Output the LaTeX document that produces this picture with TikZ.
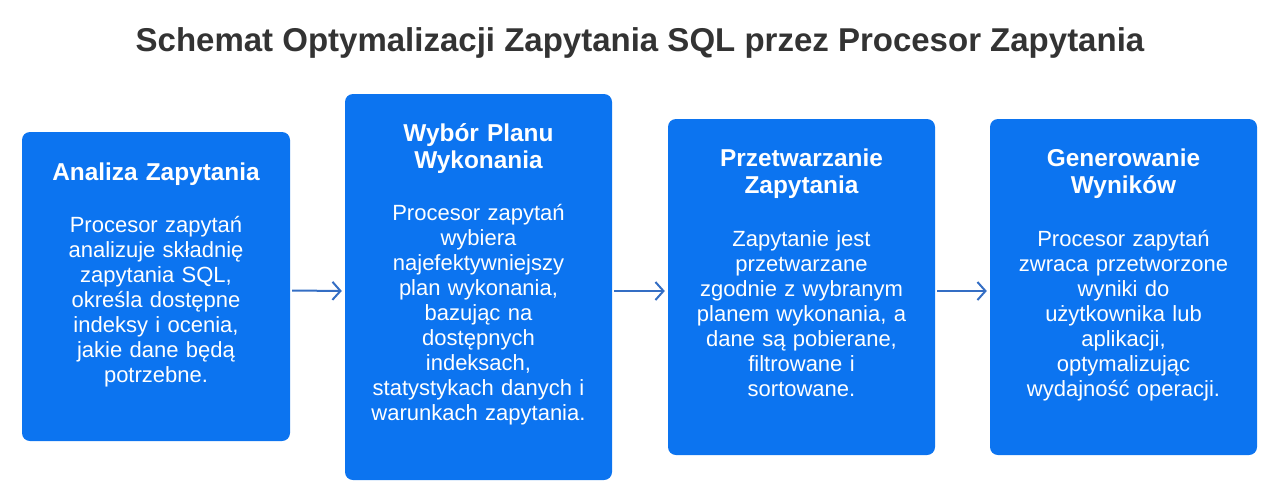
\documentclass[tikz,border=0pt]{standalone}
\usepackage{fontspec}
\setmainfont{Liberation Sans}
\usetikzlibrary{positioning, arrows.meta}
\definecolor{boxblue}{RGB}{12,116,240}
\definecolor{arrowblue}{RGB}{52,110,196}
\definecolor{titlegray}{RGB}{51,51,51}
\tikzset{
    stepbox/.style = {fill = boxblue, rounded corners = 8pt, inner sep = 0pt},
    head/.style = {text = white, font = \bfseries\fontsize{24.4}{27}\selectfont, text width = 250pt, align = center, inner sep = 0pt, anchor = base},
    body/.style = {text = white, font = \fontsize{22}{25}\selectfont, text width = 250pt, align = center, inner sep = 0pt, anchor = base},
    flow/.style = {arrowblue, line width = 2pt, -{Straight Barb[length = 8pt, width = 18pt, line width = 2pt]}, shorten < = 2pt, shorten > = 3pt}
}

\begin{document}
\begin{tikzpicture}[x = 1pt, y = -1pt]
    \useasboundingbox (0,0) rectangle (1280,501);
    \node[text = titlegray, font = \bfseries\fontsize{33}{38}\selectfont, anchor = base] (title) at (640,51)
        {Schemat Optymalizacji Zapytania SQL przez Procesor Zapytania};

    % boxes
    \node[stepbox, minimum width = 268pt, minimum height = 309pt] (analiza) at (156,286.5) {};
    \node[stepbox, minimum width = 267pt, minimum height = 386pt] (wybor) at (478.5,287) {};
    \node[stepbox, minimum width = 267pt, minimum height = 336pt] (przetw) at (801.5,287) {};
    \node[stepbox, minimum width = 267pt, minimum height = 336pt] (gener) at (1123.5,287) {};

    % headings
    \node[head] (analizaH) at ([yshift = -49pt]analiza.north) {Analiza Zapytania};
    \node[head] (wyborH) at ([yshift = -48pt]wybor.north) {Wybór Planu\\Wykonania};
    \node[head] (przetwH) at ([yshift = -48pt]przetw.north) {Przetwarzanie\\Zapytania};
    \node[head] (generH) at ([yshift = -48pt]gener.north) {Generowanie\\Wyników};

    % texts
    \node[body] (analizaT) at ([yshift = -101pt]analiza.north)
        {Procesor zapytań\\analizuje składnię\\zapytania SQL,\\określa dostępne\\indeksy i ocenia,\\jakie dane będą\\potrzebne.};
    \node[body] (wyborT) at ([yshift = -127pt]wybor.north)
        {Procesor zapytań\\wybiera\\najefektywniejszy\\plan wykonania,\\bazując na\\dostępnych\\indeksach,\\statystykach danych i\\warunkach zapytania.};
    \node[body] (przetwT) at ([yshift = -128pt]przetw.north)
        {Zapytanie jest\\przetwarzane\\zgodnie z wybranym\\planem wykonania, a\\dane są pobierane,\\filtrowane i\\sortowane.};
    \node[body] (generT) at ([yshift = -128pt]gener.north)
        {Procesor zapytań\\zwraca przetworzone\\wyniki do\\użytkownika lub\\aplikacji,\\optymalizując\\wydajność operacji.};

    % arrows
    \draw[flow] ([yshift = -4pt]analiza.east) -- ([yshift = -4pt]wybor.west);
    \draw[flow] ([yshift = -4pt]wybor.east) -- ([yshift = -4pt]przetw.west);
    \draw[flow] ([yshift = -4pt]przetw.east) -- ([yshift = -4pt]gener.west);
\end{tikzpicture}
\end{document}
